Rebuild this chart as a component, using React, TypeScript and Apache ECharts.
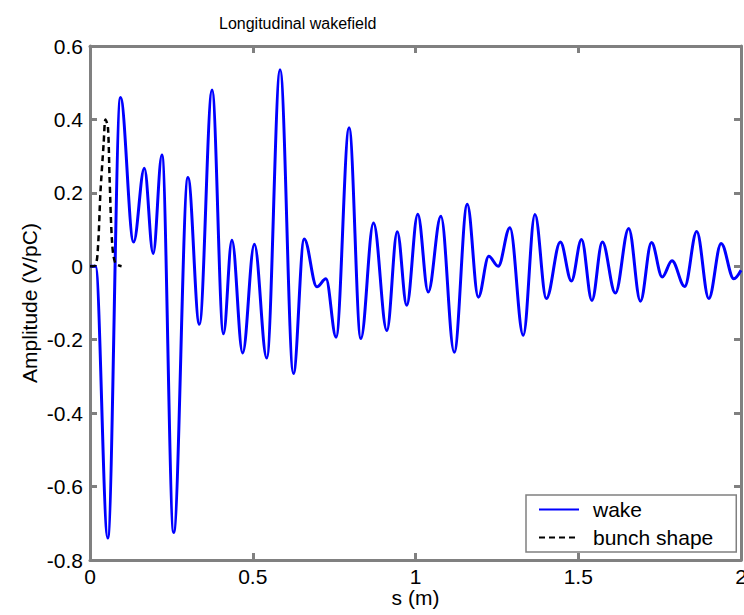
import React, { useEffect, useRef } from "react";
import * as echarts from "echarts";

// Wake extrema (s in m, amplitude in V/pC)
const sWake = [0, 0.017, 0.0546, 0.0936, 0.134, 0.167, 0.194, 0.221, 0.257, 0.301, 0.336, 0.375, 0.41, 0.436, 0.469, 0.505, 0.543, 0.584, 0.625, 0.658, 0.697, 0.725, 0.756, 0.796, 0.832, 0.871, 0.912, 0.944, 0.973, 1.007, 1.039, 1.078, 1.119, 1.159, 1.193, 1.225, 1.254, 1.29, 1.331, 1.367, 1.402, 1.445, 1.479, 1.51, 1.542, 1.574, 1.614, 1.655, 1.691, 1.725, 1.758, 1.788, 1.827, 1.864, 1.901, 1.939, 1.978, 2.0];
const vWake = [0, 0, -0.74, 0.46, 0.066, 0.267, 0.035, 0.303, -0.725, 0.242, -0.158, 0.48, -0.184, 0.071, -0.236, 0.06, -0.25, 0.535, -0.292, 0.074, -0.056, -0.034, -0.193, 0.377, -0.197, 0.118, -0.175, 0.094, -0.106, 0.142, -0.07, 0.136, -0.234, 0.169, -0.084, 0.027, 0.0, 0.105, -0.188, 0.141, -0.088, 0.066, -0.04, 0.073, -0.093, 0.066, -0.073, 0.103, -0.095, 0.065, -0.029, 0.015, -0.055, 0.095, -0.088, 0.062, -0.034, -0.011];

// Bunch shape
const sBunch = [0, 0.017, 0.025, 0.032, 0.042, 0.0475, 0.055, 0.06, 0.068, 0.078, 0.097];
const vBunch = [0, 0.003, 0.06, 0.2, 0.335, 0.4, 0.38, 0.244, 0.063, 0.008, 0];

const seriesNames = ["wake", "bunch shape"];
const xTicks = { min: 0, max: 2, interval: 0.5 };
const yTicks = { min: -0.8, max: 0.6, interval: 0.2 };

const FONT = "'Liberation Sans', Arial, Helvetica, sans-serif";
const FRAME = "#808080";
const FRAME_W = 3;

export default function App() {
  const ref = useRef<HTMLDivElement>(null);
  useEffect(() => {
    const chart = echarts.init(ref.current!, null, { renderer: "svg" });
    const wakeData = sWake.map((s, i) => [s, vWake[i]]);
    const bunchData = sBunch.map((s, i) => [s, vBunch[i]]);
    const frameLine = { show: true, onZero: false, lineStyle: { color: FRAME, width: FRAME_W } };
    const frameTick = { show: true, inside: true, length: 7, lineStyle: { color: FRAME, width: FRAME_W } };
    const fmt = (v: number) => {
      const n = Number(v.toFixed(1));
      return (n === 0 ? 0 : n).toString();
    };
    chart.setOption({
      animation: false,
      title: {
        text: "Longitudinal wakefield",
        left: 214,
        top: 10,
        textStyle: { fontSize: 16, fontWeight: "normal", color: "#000", fontFamily: FONT },
      },
      grid: { left: 90, right: 3, top: 46, bottom: 55, outerBoundsMode: "none" },
      xAxis: [
        {
          type: "value",
          position: "bottom",
          ...xTicks,
          axisLine: frameLine,
          axisTick: frameTick,
          splitLine: { show: false },
          name: "s (m)",
          nameLocation: "middle",
          nameGap: 27,
          nameMoveOverlap: false,
          nameTextStyle: { fontSize: 21, color: "#000", fontFamily: FONT, lineHeight: 21 },
          axisLabel: { fontSize: 21, lineHeight: 21, color: "#000", margin: 6, fontFamily: FONT, formatter: fmt },
        },
        {
          type: "value",
          position: "top",
          ...xTicks,
          axisLine: frameLine,
          axisTick: frameTick,
          splitLine: { show: false },
          axisLabel: { show: false },
        },
      ],
      yAxis: [
        {
          type: "value",
          position: "left",
          ...yTicks,
          axisLine: frameLine,
          axisTick: frameTick,
          splitLine: { show: false },
          name: "Amplitude (V/pC)",
          nameLocation: "middle",
          nameGap: 50,
          nameMoveOverlap: false,
          nameTextStyle: { fontSize: 21, color: "#000", fontFamily: FONT },
          axisLabel: { fontSize: 21, color: "#000", margin: 7, fontFamily: FONT, formatter: fmt },
        },
        {
          type: "value",
          position: "right",
          ...yTicks,
          axisLine: frameLine,
          axisTick: frameTick,
          splitLine: { show: false },
          axisLabel: { show: false },
        },
      ],
      legend: {
        orient: "vertical",
        left: 526,
        top: 495,
        padding: [4, 23, 4, 12],
        itemWidth: 40,
        itemHeight: 14,
        itemGap: 7,
        borderColor: FRAME,
        borderWidth: 1.5,
        backgroundColor: "#fff",
        itemStyle: { color: "transparent", borderWidth: 0, opacity: 0 },
        textStyle: { fontSize: 21, color: "#000", fontFamily: FONT, padding: [0, 0, 0, 9] },
        data: seriesNames,
      },
      series: [
        {
          name: seriesNames[0],
          type: "line",
          data: wakeData,
          xAxisIndex: 0,
          yAxisIndex: 0,
          smooth: 0.36,
          smoothMonotone: "x",
          showSymbol: false,
          symbol: "none",
          lineStyle: { color: "#0000ff", width: 3 },
          itemStyle: { color: "#0000ff" },
        },
        {
          name: seriesNames[1],
          type: "line",
          data: bunchData,
          xAxisIndex: 0,
          yAxisIndex: 0,
          smooth: 0.3,
          showSymbol: false,
          symbol: "none",
          lineStyle: { color: "#000", width: 2.5, type: [6, 4] },
          itemStyle: { color: "#000" },
        },
      ],
    });
    return () => chart.dispose();
  }, []);
  return (
    <div
      ref={ref}
      style={{ position: "fixed", left: 0, top: 0, width: 744, height: 615, background: "#fff" }}
    />
  );
}
